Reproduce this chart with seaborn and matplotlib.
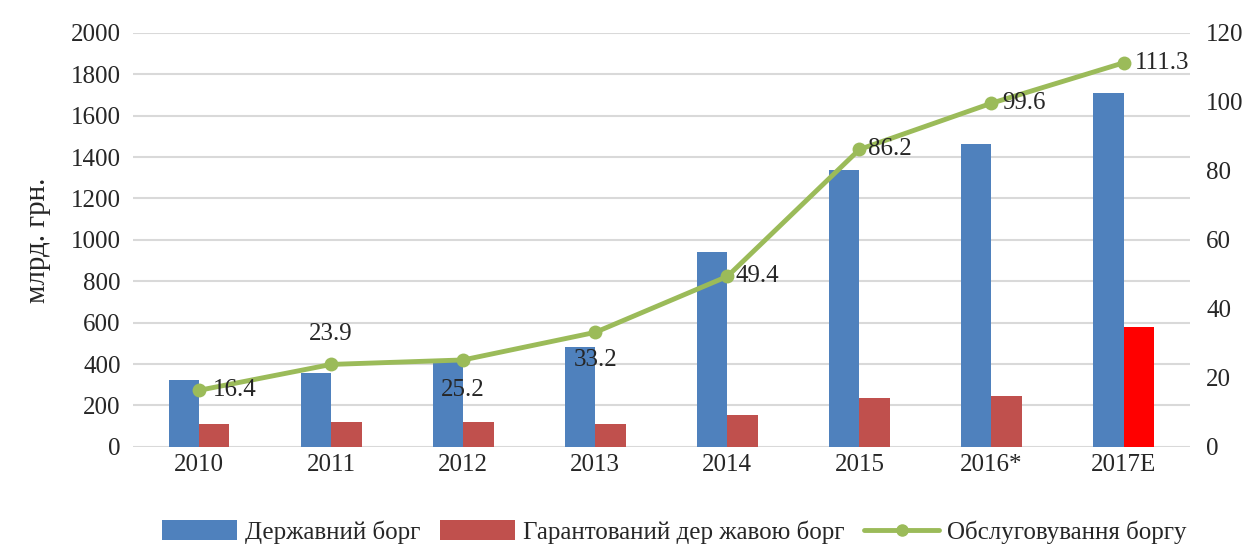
import numpy as np
import pandas as pd
import matplotlib
matplotlib.use("Agg")
import matplotlib.pyplot as plt
import seaborn as sns
from matplotlib.patches import Patch
from matplotlib.lines import Line2D

years = ["2010", "2011", "2012", "2013", "2014", "2015", "2016*", "2017E"]
state_debt = [324, 357, 425, 483, 942, 1338, 1464, 1710]
guaranteed_debt = [111, 122, 122, 111, 155, 237, 246, 580]
debt_service = [16.4, 23.9, 25.2, 33.2, 49.4, 86.2, 99.6, 111.3]
series_names = ["Державний борг", "Гарантований державою борг", "Обслуговування боргу"]
legend_labels = ["Державний борг", "Гарантований дер жавою борг", "Обслуговування боргу"]

sns.set_theme(style="white")
plt.rcParams["font.family"] = ["Liberation Serif", "DejaVu Serif"]

BLUE = "#4F81BD"
RED = "#C0504D"
BRIGHT_RED = "#FF0000"
GREEN = "#9BBB59"
TXT = "#262626"

df = pd.DataFrame({
    "year": years * 2,
    "value": state_debt + guaranteed_debt,
    "series": [series_names[0]] * len(years) + [series_names[1]] * len(years),
})

fig = plt.figure(figsize=(12.6, 5.47), dpi=100)
ax = fig.add_axes([0.1056, 0.183, 0.8385, 0.757])

sns.barplot(data=df, x="year", y="value", hue="series", order=years,
            hue_order=series_names[:2], palette=[BLUE, RED], width=0.46,
            saturation=1, linewidth=0, ax=ax, legend=False)
red_patches = ax.containers[1].patches
red_patches[-1].set_facecolor(BRIGHT_RED)

ax.set_ylim(0, 2000)
ax.set_xlim(-0.5, 7.5)
ax.set_yticks(np.arange(0, 2001, 200))
ax.yaxis.grid(True, color="#D9D9D9", linewidth=1.5)
ax.set_axisbelow(True)
for s in ax.spines.values():
    s.set_visible(False)
ax.set_xlabel("")
ax.set_ylabel("млрд. грн.", fontsize=21, color=TXT, labelpad=14)
ax.tick_params(axis="both", labelsize=18, colors=TXT, length=0)
ax.tick_params(axis="y", pad=9)
ax.tick_params(axis="x", pad=5)

ax2 = ax.twinx()
x_pos = np.arange(len(years))
sns.lineplot(x=x_pos, y=debt_service, ax=ax2, color=GREEN, linewidth=3.5,
             marker="o", markersize=10, markeredgewidth=0, legend=False)
ax2.set_ylim(0, 120)
ax2.set_yticks(np.arange(0, 121, 20))
ax2.set_xlim(-0.5, 7.5)
for s in ax2.spines.values():
    s.set_visible(False)
ax2.tick_params(axis="y", labelsize=18, colors=TXT, length=0, pad=12)
ax2.grid(False)

offsets = [(10, 0, "left", "center"), (0, 14, "center", "bottom"),
           (0, -14, "center", "top"), (0, -12, "center", "top"),
           (6, 0, "left", "center"), (6, 0, "left", "center"),
           (8, 0, "left", "center"), (8, 0, "left", "center")]
for i, v in enumerate(debt_service):
    dx, dy, ha, va = offsets[i]
    ax2.annotate(f"{v}", (x_pos[i], v), xytext=(dx, dy), textcoords="offset points",
                 ha=ha, va=va, fontsize=18, color=TXT)

handles = [Patch(facecolor=BLUE, edgecolor="none"),
           Patch(facecolor=RED, edgecolor="none"),
           Line2D([0], [0], color=GREEN, linewidth=3.5, marker="o", markersize=8)]
fig.legend(handles, legend_labels, loc="lower center", bbox_to_anchor=(0.535, -0.035),
           ncol=3, frameon=False, fontsize=18, handlelength=3.0, handleheight=0.8,
           columnspacing=0.8, handletextpad=0.3)

fig.savefig("out.png", dpi=100)
